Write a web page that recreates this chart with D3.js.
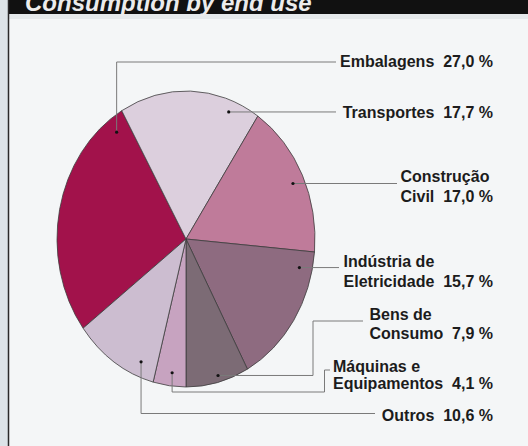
<!DOCTYPE html>
<html>
<head>
<meta charset="utf-8">
<script src="https://cdn.jsdelivr.net/npm/d3@7"></script>
<style>
  html, body { margin: 0; padding: 0; background: #f4f6f7; }
  svg { display: block; }
  .title { font-family: "Liberation Sans", Arial, sans-serif; font-weight: bold; font-style: italic; font-size: 24px; fill: #ececec; }
  .lbl { font-family: "Liberation Sans", Arial, sans-serif; font-weight: bold; font-size: 16px; fill: #1c1c1c; white-space: pre; }
  .leader { fill: none; stroke: #7a7a7a; stroke-width: 1; }
</style>
</head>
<body>
<svg id="chart" width="528" height="446"></svg>
<script>
// data
const categories = ["Embalagens", "Transportes", "Construção Civil", "Indústria de Eletricidade", "Bens de Consumo", "Máquinas e Equipamentos", "Outros"];
const shares = [27.0, 17.7, 17.0, 15.7, 7.9, 4.1, 10.6];
const labelLines = [["Embalagens"], ["Transportes"], ["Construção", "Civil"], ["Indústria de", "Eletricidade"], ["Bens de", "Consumo"], ["Máquinas e", "Equipamentos"], ["Outros"]];
const colors = ["#a2124b", "#dccfdd", "#bf7b9a", "#8e6b80", "#7c6b75", "#c7a3c0", "#ccbdd0"];

// annotation layout: where the dot sits in the slice, how the leader runs, where the text sits
const annos = [
    { frac: 0.93, rad: 0.90, route: [["v", 62], ["h", 336]], y: 67, gap: 20 },
    { frac: 0.80, rad: 0.92, route: [["h", 336]], y: 117.5, gap: 20 },
    { frac: 0.52, rad: 0.91, route: [["h", 397]], y: 181.5, gap: 20 },
    { frac: 0.13, rad: 0.90, route: [["h", 339]], y: 266.5, gap: 20 },
    { frac: 0.47, rad: 0.955, route: [["h", 313], ["v", 321], ["h", 363]], y: 319.5, gap: 19.3 },
    { frac: 0.46, rad: 0.91, route: [["v", 392], ["h", 324.5], ["v", 370], ["h", 330]], y: 371.5, gap: 17.5 },
    { frac: 0.21, rad: 0.90, route: [["v", 413.5], ["h", 375]], y: 420.8, gap: 20 }
];

const fmt = d3.formatLocale({ decimal: ",", thousands: ".", grouping: [3], currency: ["", ""] }).format(".1f");

const svg = d3.select("#chart");
const W = 528, H = 446;

// frame: left strip, rule, title bar
svg.append("rect").attr("x", 0).attr("y", 0).attr("width", 8).attr("height", H).attr("fill", "#dde4e8");
svg.append("rect").attr("x", 8).attr("y", 14).attr("width", W - 8).attr("height", 5).attr("fill", "#e5e9eb");
svg.append("rect").attr("x", 8).attr("y", 0).attr("width", W - 8).attr("height", 14).attr("fill", "#111");
svg.append("line").attr("x1", 8.5).attr("x2", 8.5).attr("y1", 0).attr("y2", H).attr("stroke", "#2a2a2a").attr("stroke-width", 1.5);
svg.append("text").attr("class", "title").attr("x", 25).attr("y", 10.5).text("Consumption by end use");

// pie (drawn as a slightly tall ellipse like the print)
const cx = 186, cy = 239, rx = 129, ry = 148, ky = ry / rx;

// Bens de Consumo ends pointing straight down
const before = d3.sum(shares.slice(0, 5));
const start = Math.PI - 2 * Math.PI * before / d3.sum(shares);

const pie = d3.pie().sort(null).startAngle(start).endAngle(start + 2 * Math.PI);
const arcs = pie(shares);
const arc = d3.arc().innerRadius(0).outerRadius(rx);

const gPie = svg.append("g").attr("transform", `translate(${cx},${cy}) scale(1,${ky})`);
gPie.selectAll("path.slice")
    .data(arcs)
    .enter()
    .append("path")
    .attr("class", "slice")
    .attr("d", arc)
    .attr("fill", (d, i) => colors[i])
    .attr("stroke", "#3d3d3d")
    .attr("stroke-width", 0.8)
    .attr("vector-effect", "non-scaling-stroke");

// leader dots
const dots = arcs.map((d, i) => {
    const a = d.startAngle + annos[i].frac * (d.endAngle - d.startAngle);
    const p = d3.pointRadial(a, annos[i].rad * rx);
    return [cx + p[0], cy + p[1] * ky];
});

const gAnno = svg.append("g");
annos.forEach((an, i) => {
    const pts = [dots[i]];
    an.route.forEach(([dir, v]) => {
        const last = pts[pts.length - 1];
        pts.push(dir === "h" ? [v, last[1]] : [last[0], v]);
    });
    gAnno.append("path").attr("class", "leader").attr("d", d3.line()(pts));
});

gAnno.selectAll("circle.dot")
    .data(dots)
    .enter()
    .append("circle")
    .attr("class", "dot")
    .attr("cx", d => d[0])
    .attr("cy", d => d[1])
    .attr("r", 1.6)
    .attr("fill", "#111");

// labels: last line right aligned with value, first line starts with it
const xRight = 493;
labelLines.forEach((lines, i) => {
    const an = annos[i];
    const n = lines.length;
    const lastY = an.y + (n - 1) * an.gap;
    const last = gAnno.append("text")
        .attr("class", "lbl")
        .attr("x", xRight)
        .attr("y", lastY)
        .attr("text-anchor", "end")
        .text(lines[n - 1] + "  " + fmt(shares[i]) + " %");
    const left = xRight - last.node().getComputedTextLength();
    for (let k = 0; k < n - 1; k++) {
        gAnno.append("text")
            .attr("class", "lbl")
            .attr("x", left)
            .attr("y", an.y + k * an.gap)
            .text(lines[k]);
    }
});
</script>
</body>
</html>
